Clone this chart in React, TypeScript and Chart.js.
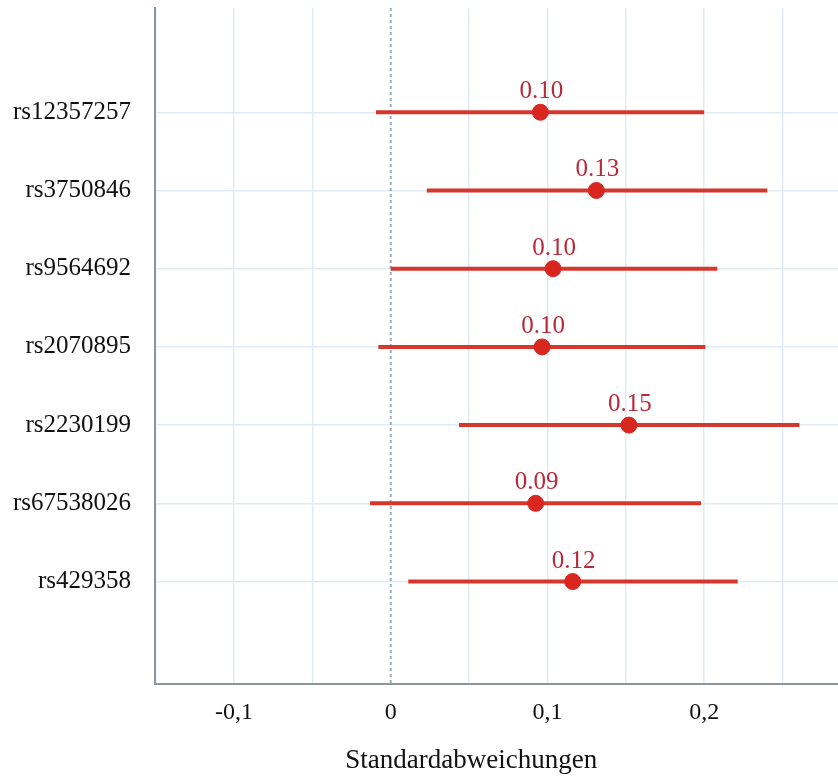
import React, { useEffect, useRef } from "react";
import { Chart, registerables } from "chart.js";

Chart.register(...registerables);

const snps = ["rs12357257", "rs3750846", "rs9564692", "rs2070895", "rs2230199", "rs67538026", "rs429358"];
const estimates = [0.0955, 0.1312, 0.1036, 0.0966, 0.152, 0.0925, 0.1161];
const lower = [-0.0094, 0.023, 0.0, -0.0079, 0.0436, -0.0132, 0.0112];
const upper = [0.2, 0.2403, 0.2084, 0.2008, 0.2608, 0.198, 0.2214];
const estimateLabels = ["0.10", "0.13", "0.10", "0.10", "0.15", "0.09", "0.12"];
const xTickValues = [-0.15, -0.1, -0.05, 0, 0.05, 0.1, 0.15, 0.2, 0.25];
const xTickLabels = ["", "-0,1", "", "0", "", "0,1", "", "0,2", ""];
const xTitle = "Standardabweichungen";

const FONT = "'Liberation Serif', 'Times New Roman', serif";
const RED_LINE = "#d5372c";
const RED_POINT = "#d9271f";
const RED_TEXT = "#b8293a";
const GRID = "#e1ebf5";
const AXIS = "#8e959e";

export default function App() {
  const ref = useRef<HTMLCanvasElement | null>(null);

  useEffect(() => {
    document.body.style.margin = "0";
    const canvas = ref.current;
    if (!canvas) return;

    const ciDatasets = snps.map((name, i) => ({
      type: "scatter" as const,
      label: name,
      data: [
        { x: lower[i], y: i },
        { x: upper[i], y: i },
      ],
      showLine: true,
      borderColor: RED_LINE,
      borderWidth: 4,
      pointRadius: 0,
      pointHoverRadius: 0,
      order: 2,
    }));

    const pointDataset = {
      type: "scatter" as const,
      label: "estimate",
      data: estimates.map((v, i) => ({ x: v, y: i })),
      backgroundColor: RED_POINT,
      borderColor: RED_POINT,
      pointRadius: 8,
      showLine: false,
      order: 1,
    };

    const zeroLine = {
      id: "zeroLine",
      beforeDatasetsDraw(chart: any) {
        const { ctx, chartArea, scales } = chart;
        const x = scales.x.getPixelForValue(0);
        ctx.save();
        ctx.strokeStyle = "#9eacbd";
        ctx.lineWidth = 2;
        ctx.setLineDash([3, 3]);
        ctx.beginPath();
        ctx.moveTo(x, chartArea.top);
        ctx.lineTo(x, chartArea.bottom);
        ctx.stroke();
        ctx.restore();
      },
    };

    const valueLabels = {
      id: "valueLabels",
      afterDatasetsDraw(chart: any) {
        const { ctx } = chart;
        const idx = chart.data.datasets.length - 1;
        const meta = chart.getDatasetMeta(idx);
        ctx.save();
        ctx.font = `25px ${FONT}`;
        ctx.fillStyle = RED_TEXT;
        ctx.textAlign = "center";
        ctx.textBaseline = "alphabetic";
        meta.data.forEach((el: any, i: number) => {
          ctx.fillText(estimateLabels[i], el.x + 1, el.y - 14);
        });
        ctx.restore();
      },
    };

    const axisTitle = {
      id: "axisTitle",
      afterDraw(chart: any) {
        const { ctx, chartArea } = chart;
        ctx.save();
        ctx.font = `27px ${FONT}`;
        ctx.fillStyle = "#111";
        ctx.textAlign = "center";
        ctx.textBaseline = "alphabetic";
        const cx = chartArea.left + (chartArea.right - chartArea.left) * 0.463;
        ctx.fillText(xTitle, cx, chartArea.bottom + 84);
        ctx.restore();
      },
    };

    const noPad = (scale: any) => {
      scale.paddingTop = 0;
      scale.paddingBottom = 0;
      scale.paddingLeft = 0;
      scale.paddingRight = 0;
    };

    const chart = new Chart(canvas, {
      type: "scatter",
      data: { datasets: [...ciDatasets, pointDataset] as any },
      options: {
        responsive: false,
        animation: false,
        layout: { autoPadding: false, padding: { top: 8, right: 0, left: 0, bottom: 0 } },
        plugins: {
          legend: { display: false },
          tooltip: { enabled: false },
        },
        scales: {
          x: {
            type: "linear",
            min: -0.1504,
            max: 0.2854,
            afterBuildTicks: (scale: any) => {
              scale.ticks = xTickValues.map((v) => ({ value: v }));
            },
            afterFit: (scale: any) => {
              scale.height = 94;
              noPad(scale);
            },
            ticks: {
              autoSkip: false,
              maxRotation: 0,
              padding: 14,
              color: "#111",
              font: { family: FONT, size: 24 },
              callback: (_v: any, i: number) => xTickLabels[i],
            },
            grid: {
              drawTicks: false,
              color: (ctx: any) => (ctx.tick && Math.abs(ctx.tick.value) < 1e-9 ? "rgba(0,0,0,0)" : GRID),
              lineWidth: 1.5,
            },
            border: { color: AXIS, width: 2 },
          },
          y: {
            type: "linear",
            reverse: true,
            min: -1.333,
            max: 7.31,
            afterBuildTicks: (scale: any) => {
              scale.ticks = snps.map((_, i) => ({ value: i }));
            },
            afterFit: (scale: any) => {
              scale.width = 155;
              noPad(scale);
            },
            ticks: {
              autoSkip: false,
              padding: 24,
              color: "#111",
              font: { family: FONT, size: 25 },
              callback: (_v: any, i: number) => snps[i],
            },
            grid: {
              drawTicks: false,
              color: GRID,
              lineWidth: 1.5,
            },
            border: { color: AXIS, width: 2 },
          },
        },
      },
      plugins: [zeroLine, valueLabels, axisTitle],
    });

    return () => chart.destroy();
  }, []);

  return (
    <div style={{ width: 838, height: 778, background: "#fff" }}>
      <canvas ref={ref} width={838} height={778} />
    </div>
  );
}
